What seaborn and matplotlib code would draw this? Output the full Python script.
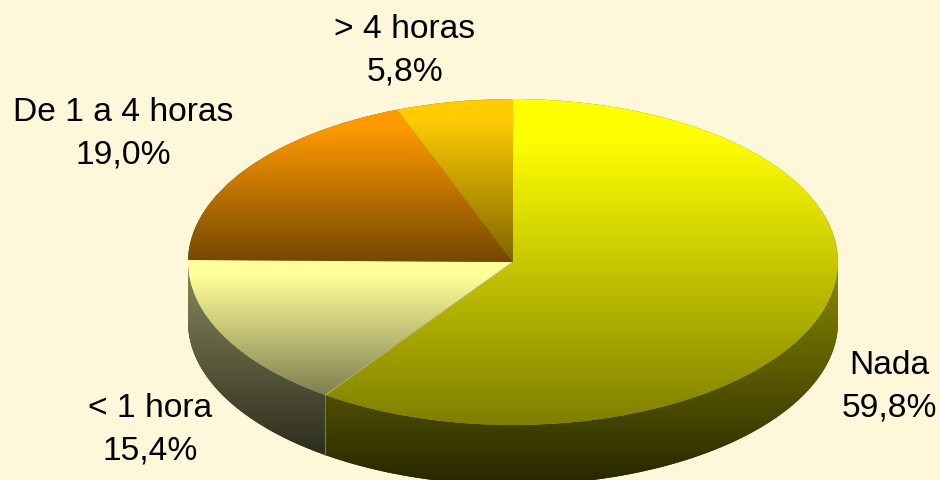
import numpy as np
import pandas as pd
import matplotlib
matplotlib.use("Agg")
import matplotlib.pyplot as plt
from matplotlib.patches import Polygon
import seaborn as sns

categorias = ["Nada", "< 1 hora", "De 1 a 4 horas", "> 4 horas"]
valores = [59.8, 15.4, 19.0, 5.8]
rotulos = ["59,8%", "15,4%", "19,0%", "5,8%"]

cores_topo = [["#FFFF00", "#7F7F00"], ["#FFFF99", "#7F7F50"],
              ["#FF9900", "#754800"], ["#FFCC00", "#7F6600"]]
cores_lado = [["#8C8C00", "#262600"], ["#8A8A5E", "#1E1E14"], None, None]
pos_rotulos = [(889, 366), (150, 409), (123, 113), (405, 30)]

W, H = 940, 481
CX, CY, RX, RY = 513, 263, 325, 163
PROF = 60 / RY
FUNDO = "#FEF7DA"

sns.set_theme(style="white")
plt.rcParams["font.family"] = ["Liberation Sans", "DejaVu Sans"]

df = pd.DataFrame({"cat": categorias, "val": valores})


def gradiente(ax, patch, cores, ymin, ymax, z, espera=0.0):
    cmap = sns.blend_palette(cores, as_cmap=True)
    bb = patch.get_path().get_extents(patch.get_patch_transform())
    # a cor de cima fica parada no começo da faixa (espera)
    rampa = np.clip((np.linspace(0, 1, 256) - espera) / (1 - espera), 0, 1).reshape(-1, 1)
    im = ax.imshow(rampa, cmap=cmap, vmin=0, vmax=1, aspect="auto", origin="upper", zorder=z,
                   extent=(bb.x0, bb.x1, ymin, ymax), interpolation="bilinear")
    im.set_clip_path(patch)


fig = plt.figure(figsize=(W / 100, H / 100), dpi=100, facecolor=FUNDO)
ax = fig.add_axes([0, 0, 1, 1])
wedges, _ = ax.pie(df["val"], startangle=90, counterclock=False, radius=1,
                   wedgeprops={"linewidth": 0})

for w, topo, lado in zip(wedges, cores_topo, cores_lado):
    w.set_zorder(3)
    w.set_facecolor(topo[1])
    bb = w.get_path().get_extents(w.get_patch_transform())
    gradiente(ax, w, topo, bb.y0, bb.y1, 4, espera=0.12)

    # lateral da pizza: só a parte da frente aparece
    if lado is not None:
        t = np.radians(np.linspace(max(w.theta1, -180), min(w.theta2, 0), 120))
        cima = np.column_stack([np.cos(t), np.sin(t)])
        baixo = cima[::-1] - [0, PROF]
        lateral = Polygon(np.vstack([cima, baixo]), closed=True, fc=lado[1],
                          ec="none", zorder=1)
        ax.add_patch(lateral)
        gradiente(ax, lateral, lado, -1 - PROF, 0, 2)

# linhas claras na divisa entre Nada e < 1 hora
ang = np.radians(wedges[0].theta1)
ax.plot([0, np.cos(ang)], [0, np.sin(ang)], color="#B4B478", lw=0.6, zorder=5)
ax.plot([np.cos(ang)] * 2, [np.sin(ang), np.sin(ang) - PROF], color="#77775A",
        lw=0.8, zorder=5)

ax.set_aspect("auto")
ax.set_xlim(-CX / RX, (W - CX) / RX)
ax.set_ylim((CY - H) / RY, CY / RY)
ax.axis("off")

for nome, rot, (x, y) in zip(categorias, rotulos, pos_rotulos):
    fig.text(x / W, 1 - y / H, nome, ha="center", va="center", fontsize=24.2, color="black")
    fig.text(x / W, 1 - (y + 42) / H, rot, ha="center", va="center", fontsize=24.2, color="black")

fig.savefig("out.png", dpi=100, facecolor=FUNDO)
